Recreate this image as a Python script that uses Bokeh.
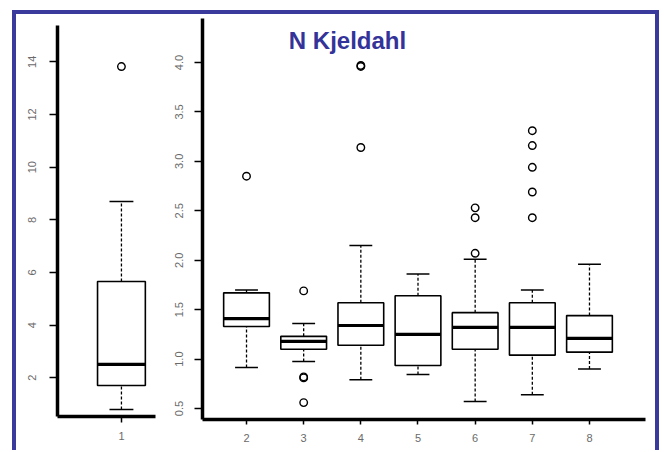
from bokeh.plotting import figure
from bokeh.layouts import row
from bokeh.models import (Range1d, FixedTicker, PrintfTickFormatter, Label,
                          ColumnDataSource)
from bokeh.transform import dodge
from bokeh.embed import file_html
from bokeh.resources import INLINE

# ---------------- data ----------------
TITLE = "N Kjeldahl"

left_groups = [1]
left_lo = [0.80]
left_q1 = [1.71]
left_med = [2.51]
left_q3 = [5.66]
left_hi = [8.70]
left_out_x = [1]
left_out_y = [13.82]
left_yticks = [2, 4, 6, 8, 10, 12, 14]

right_groups = [2, 3, 4, 5, 6, 7, 8]
right_lo = [0.915, 0.975, 0.79, 0.845, 0.57, 0.64, 0.90]
right_q1 = [1.33, 1.10, 1.14, 0.935, 1.10, 1.04, 1.07]
right_med = [1.41, 1.18, 1.34, 1.25, 1.32, 1.32, 1.21]
right_q3 = [1.67, 1.23, 1.57, 1.64, 1.47, 1.57, 1.44]
right_hi = [1.70, 1.36, 2.15, 1.86, 2.01, 1.70, 1.96]
right_out_x = [2, 3, 3, 3, 3, 4, 4, 4, 6, 6, 6, 7, 7, 7, 7, 7]
right_out_y = [2.85, 1.69, 0.82, 0.81, 0.56, 3.14, 3.96, 3.97,
               2.07, 2.43, 2.53, 2.43, 2.69, 2.94, 3.16, 3.31]
right_yticks = [0.5, 1.0, 1.5, 2.0, 2.5, 3.0, 3.5, 4.0]

BOX_W = 0.8
CAP_W = 0.4
FRAME_BLUE = "#3a3a9c"
TICK_GREY = "#6a6a6a"
FONT = "Liberation Sans"


def style_axes(p, yticks, xticks, fmt, ystand, xstand, xtick_out):
    p.xgrid.visible = False
    p.ygrid.visible = False
    p.outline_line_color = None
    p.background_fill_color = "white"
    p.border_fill_color = "white"
    for ax in (p.xaxis[0], p.yaxis[0]):
        ax.axis_line_width = 3.5
        ax.axis_line_color = "black"
        ax.major_tick_line_color = "black"
        ax.major_tick_line_width = 1.5
        ax.major_tick_in = 0
        ax.minor_tick_line_color = None
        ax.major_label_text_color = TICK_GREY
        ax.major_label_text_font = FONT
        ax.major_label_text_font_size = "11px"
    p.yaxis[0].ticker = FixedTicker(ticks=yticks)
    p.yaxis[0].formatter = PrintfTickFormatter(format=fmt)
    p.yaxis[0].major_label_orientation = "vertical"
    p.yaxis[0].major_tick_out = 8
    p.yaxis[0].major_label_standoff = ystand
    p.xaxis[0].ticker = FixedTicker(ticks=xticks)
    p.xaxis[0].major_tick_out = xtick_out
    p.xaxis[0].major_label_standoff = xstand


def draw_boxes(p, g, lo, q1, med, q3, hi, ox, oy):
    src = ColumnDataSource(dict(g=g, lo=lo, q1=q1, med=med, q3=q3, hi=hi))
    # whiskers (dashed)
    p.segment(x0="g", y0="q3", x1="g", y1="hi", source=src,
              line_color="black", line_width=1.3, line_dash="3 2")
    p.segment(x0="g", y0="lo", x1="g", y1="q1", source=src,
              line_color="black", line_width=1.3, line_dash="3 2")
    # caps
    for col in ("hi", "lo"):
        p.segment(x0=dodge("g", -CAP_W / 2), y0=col, x1=dodge("g", CAP_W / 2),
                  y1=col, source=src, line_color="black", line_width=1.5)
    # box
    p.vbar(x="g", width=BOX_W, bottom="q1", top="q3", source=src,
           fill_color="white", line_color="black", line_width=1.6)
    # median
    p.segment(x0=dodge("g", -BOX_W / 2), y0="med", x1=dodge("g", BOX_W / 2),
              y1="med", source=src, line_color="black", line_width=3.2)
    # outliers
    p.scatter(x=ox, y=oy, marker="circle", size=7.5, fill_color=None,
              line_color="black", line_width=1.4)


H = 436

p1 = figure(width=144, height=H, output_backend="svg", toolbar_location=None,
            x_range=Range1d(-0.07, 1.57), y_range=Range1d(0.53, 15.38),
            min_border_left=41, min_border_right=5, min_border_top=11,
            min_border_bottom=34, frame_align=False)
style_axes(p1, left_yticks, left_groups, "%d", 13, 9, 6)
draw_boxes(p1, left_groups, left_lo, left_q1, left_med, left_q3, left_hi,
           left_out_x, left_out_y)

p2 = figure(width=495, height=H, output_backend="svg", toolbar_location=None,
            x_range=Range1d(1.23, 8.98), y_range=Range1d(0.389, 4.445),
            min_border_left=42, min_border_right=10, min_border_top=4,
            min_border_bottom=31, frame_align=False)
style_axes(p2, right_yticks, right_groups, "%.1f", 11, 9, 5)
draw_boxes(p2, right_groups, right_lo, right_q1, right_med, right_q3, right_hi,
           right_out_x, right_out_y)

p2.add_layout(Label(x=145, y=379, x_units="screen", y_units="screen",
                    text=TITLE, text_align="center", text_baseline="alphabetic",
                    text_font=FONT, text_font_style="bold",
                    text_font_size="24px", text_color="#333399"))

border = "4px solid " + FRAME_BLUE
layout = row(p1, p2, styles={"border-top": border, "border-left": border,
                             "border-right": border, "margin-left": "12px",
                             "margin-top": "10px"})

open("out.html", "w").write(file_html(layout, INLINE))
